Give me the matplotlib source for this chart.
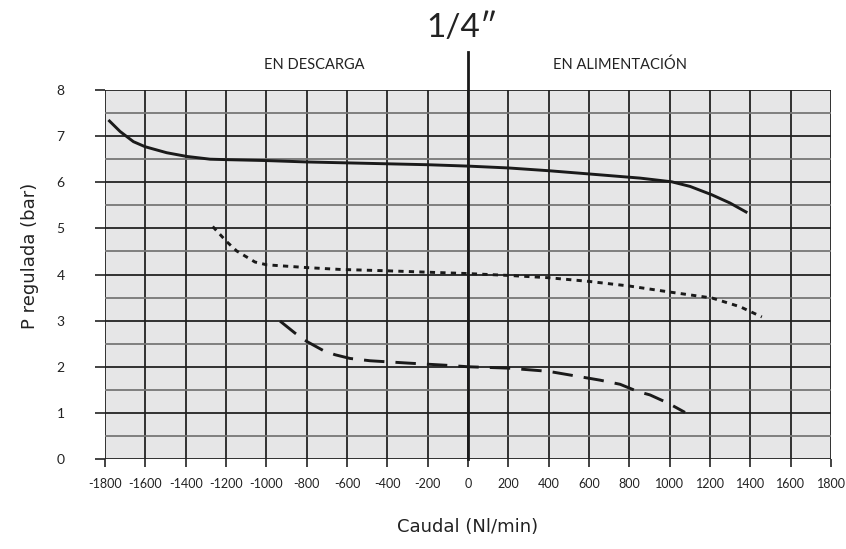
import numpy as np
from matplotlib import pyplot as plt

# curve data
solid_x = [-1783, -1725, -1659, -1601, -1494, -1395, -1279, -1196, -1000, -800, -600, -400,
           -200, 0, 200, 400, 600, 853, 1010, 1101, 1208, 1299, 1385]
solid_y = [7.35, 7.10, 6.88, 6.77, 6.64, 6.56, 6.50, 6.49, 6.47, 6.44, 6.42, 6.40,
           6.38, 6.35, 6.31, 6.25, 6.18, 6.09, 6.01, 5.91, 5.73, 5.55, 5.34]

dot_x = [-1266, -1196, -1147, -1056, -998, -800, -635, -400, -200, 0, 200, 400, 600, 800,
         1000, 1210, 1350, 1457]
dot_y = [5.04, 4.71, 4.51, 4.27, 4.21, 4.15, 4.11, 4.08, 4.05, 4.02, 3.98, 3.93, 3.85, 3.75,
         3.62, 3.49, 3.3, 3.08]

dash_x = [-932, -858, -800, -717, -659, -585, -486, -300, -100, 0, 200, 400, 654, 754,
          844, 902, 993, 1076]
dash_y = [2.99, 2.73, 2.55, 2.35, 2.26, 2.18, 2.13, 2.08, 2.03, 2.0, 1.97, 1.9, 1.71, 1.62,
          1.46, 1.39, 1.21, 1.01]

xticks = list(range(-1800, 1801, 200))
yticks = list(range(0, 9))

plt.rcParams['font.family'] = ['Lato', 'DejaVu Sans']

fig = plt.figure(figsize=(8.46, 5.49), dpi=100)
ax = fig.add_axes([105 / 846, 90 / 549, 726 / 846, 369 / 549])
ax.set_facecolor("#e6e6e7")

ax.set_xlim(-1800, 1800)
ax.set_ylim(0, 8)
ax.set_xticks(xticks)
ax.set_xticklabels([str(t) for t in xticks], fontsize=9)
ax.set_yticks(yticks)
ax.set_yticklabels([str(t) for t in yticks], fontsize=10)
ax.set_yticks(np.arange(0.5, 8, 1), minor=True)
ax.tick_params(axis="x", length=6, width=1.2, pad=8, colors="#222222")
ax.tick_params(axis="y", length=7, width=1.2, pad=22, colors="#222222")
ax.tick_params(axis="y", which="minor", length=0)

ax.grid(True, which="major", color="#222222", linewidth=1.3)
ax.grid(True, which="minor", axis="y", color="#777777", linewidth=1.3)
ax.set_axisbelow(True)

for name, spine in ax.spines.items():
    spine.set_visible(False)

ax.plot(solid_x, solid_y, color="#1a1a1a", linewidth=2.1, zorder=3, solid_capstyle="butt")
ax.plot(dot_x, dot_y, color="#1a1a1a", linewidth=2.1, dashes=(1.8, 1.8), zorder=3)
ax.plot(dash_x, dash_y, color="#1a1a1a", linewidth=2.1, dashes=(7, 3.8), zorder=3)

# central divider rising above the plot
ax.plot([0, 0], [0, 8.83], color="#1a1a1a", linewidth=2, clip_on=False, zorder=4)

ax.text(-760, 8.55, "EN DESCARGA", ha="center", va="center", fontsize=10.5, color="#222222")
ax.text(754, 8.55, "EN ALIMENTACIÓN", ha="center", va="center", fontsize=10.5, color="#222222")
fig.text(462 / 846, 1 - 28 / 549, "1/4\u2033", ha="center", va="center", fontsize=24, color="#222222")

fig.text(468 / 846, 1 - 527 / 549, "Caudal (Nl/min)", ha="center", va="center", fontsize=13,
         color="#222222", family="DejaVu Sans")
fig.text(30 / 846, 1 - 256 / 549, "P regulada (bar)", ha="center", va="center", rotation=90,
         fontsize=13, color="#222222", family="DejaVu Sans")

fig.savefig("out.png", dpi=100)
